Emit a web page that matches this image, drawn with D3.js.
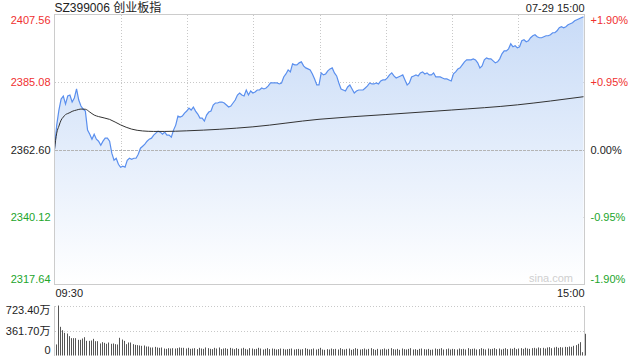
<!DOCTYPE html>
<html lang="zh">
<head>
<meta charset="UTF-8">
<title>创业板指 分时</title>
<style>
    html, body { margin: 0; padding: 0; background: #fff; }
    svg { display: block; font-family: "Liberation Sans", Arial, "Noto Sans CJK SC", sans-serif; }
    .grid { stroke: #c8c8c8; stroke-width: 1; stroke-dasharray: 1,2; fill: none; shape-rendering: crispEdges; }
    .zero { stroke: #b4b4b4; stroke-width: 1; stroke-dasharray: 3,1; fill: none; shape-rendering: crispEdges; }
    .frame { stroke: #cccccc; fill: none; shape-rendering: crispEdges; }
    .lbl { font-size: 11px; }
</style>
</head>
<body>
<svg id="chart" width="640" height="360"></svg>
<script src="https://cdn.jsdelivr.net/npm/d3@7"></script>
<script>
// 标题
const code = 'SZ399006', name = '创业板指', stamp = '07-29 15:00';
const timeLabels = ['09:30', '15:00'];
const preClose = 2362.60;

// 价格刻度 / 涨跌幅刻度
const priceTicks = [2407.56, 2385.08, 2362.60, 2340.12, 2317.64];
const pctTicks = ['+1.90%', '+0.95%', '0.00%', '-0.95%', '-1.90%'];
const volTicks = [723.40, 361.70, 0];

// 每分钟价格 (09:30 - 15:00, 241 点)
const price = [
    2362.60, 2370.72, 2375.74, 2379.41, 2380.42, 2377.74, 2380.42, 2380.75, 2378.41, 2379.75,
    2382.76, 2379.08, 2377.07, 2376.07, 2375.40, 2369.05, 2367.71, 2366.04, 2367.71, 2366.04,
    2365.37, 2364.04, 2365.37, 2366.38, 2366.38, 2365.37, 2361.36, 2359.02, 2359.69, 2357.68,
    2356.68, 2357.02, 2356.68, 2359.02, 2359.69, 2359.36, 2359.69, 2359.69, 2361.03, 2363.03,
    2363.70, 2364.37, 2365.37, 2366.04, 2366.38, 2367.38, 2368.05, 2368.72, 2368.38, 2367.71,
    2368.38, 2367.38, 2367.38, 2366.71, 2369.05, 2370.72, 2373.73, 2373.40, 2373.73, 2374.73,
    2375.40, 2376.41, 2375.74, 2376.74, 2375.40, 2374.40, 2373.06, 2373.06, 2372.06, 2374.07,
    2375.07, 2375.40, 2377.41, 2378.08, 2378.08, 2378.41, 2378.41, 2378.08, 2377.41, 2376.74,
    2377.07, 2378.08, 2379.08, 2380.75, 2381.42, 2380.75, 2380.42, 2382.42, 2380.75, 2382.09,
    2381.42, 2381.75, 2382.42, 2382.42, 2383.09, 2382.76, 2383.09, 2383.76, 2384.76, 2384.76,
    2384.76, 2384.76, 2384.43, 2384.76, 2386.77, 2387.77, 2389.11, 2388.44, 2391.11, 2390.78,
    2390.78, 2391.45, 2391.78, 2390.45, 2389.78, 2389.44, 2389.11, 2387.77, 2386.10, 2384.09,
    2384.09, 2388.11, 2387.44, 2387.77, 2388.77, 2389.44, 2389.78, 2388.11, 2387.10, 2384.76,
    2382.76, 2382.42, 2382.09, 2383.43, 2384.09, 2382.76, 2381.42, 2382.09, 2382.42, 2382.42,
    2382.42, 2383.09, 2383.76, 2384.76, 2384.43, 2384.43, 2384.76, 2384.43, 2385.43, 2385.77,
    2385.77, 2386.43, 2387.44, 2388.11, 2387.10, 2386.43, 2386.77, 2387.10, 2387.44, 2385.77,
    2384.09, 2384.76, 2386.77, 2387.10, 2387.44, 2387.10, 2388.11, 2388.44, 2387.77, 2388.11,
    2387.44, 2387.44, 2388.11, 2386.77, 2386.77, 2386.77, 2386.43, 2386.10, 2386.10, 2385.77,
    2385.43, 2387.77, 2388.44, 2389.44, 2389.78, 2390.78, 2391.78, 2392.45, 2392.45, 2392.45,
    2392.79, 2392.45, 2391.45, 2389.78, 2390.45, 2392.45, 2393.12, 2392.79, 2392.79, 2392.12,
    2391.45, 2391.78, 2392.79, 2394.46, 2395.46, 2395.46, 2396.13, 2397.80, 2396.80, 2397.13,
    2396.46, 2396.80, 2398.80, 2399.14, 2398.47, 2398.80, 2399.81, 2400.48, 2400.81, 2400.14,
    2399.81, 2399.81, 2400.14, 2400.48, 2400.48, 2400.81, 2401.48, 2401.48, 2402.15, 2403.15,
    2403.48, 2403.15, 2403.48, 2404.15, 2404.49, 2404.82, 2405.49, 2405.82, 2406.16, 2406.49,
    2406.83
];

// 均价线 (分钟序号, 均价)
const avgIdx = [0, 1, 2, 3, 4, 5, 6, 7, 8, 10, 12, 14, 16, 18, 20, 25, 30, 35, 40, 45, 50, 60, 90, 120, 150, 180, 210, 225, 240];
const avgPrice = [2362.60, 2368.05, 2370.39, 2372.39, 2373.40, 2374.23, 2374.57, 2374.90, 2375.30, 2375.74,
    2376.07, 2376.00, 2375.07, 2374.07, 2373.56, 2372.63, 2370.79, 2369.39, 2368.78, 2368.62,
    2368.62, 2368.82, 2370.15, 2372.66, 2374.23, 2375.74, 2377.47, 2378.75, 2380.18];

// 成交量 (万)
const volume = [
    160, 723, 415, 366, 328, 318, 280, 251, 251, 251,
    227, 227, 246, 265, 212, 212, 217, 241, 207, 207,
    174, 193, 183, 169, 188, 169, 174, 164, 159, 256,
    231, 212, 164, 188, 188, 164, 154, 150, 145, 140,
    145, 130, 130, 116, 116, 125, 116, 111, 116, 101,
    96, 106, 101, 106, 101, 106, 116, 111, 111, 101,
    111, 96, 101, 106, 92, 111, 101, 96, 116, 106,
    96, 92, 111, 101, 116, 92, 101, 106, 96, 111,
    101, 92, 106, 96, 101, 111, 96, 87, 106, 101,
    92, 96, 111, 101, 87, 96, 106, 92, 101, 96,
    87, 92, 101, 96, 87, 92, 96, 101, 87, 92,
    96, 87, 92, 106, 96, 87, 92, 101, 87, 96,
    111, 87, 82, 92, 87, 101, 92, 96, 87, 106,
    92, 87, 96, 101, 82, 92, 106, 96, 87, 92,
    101, 87, 96, 106, 92, 82, 96, 87, 92, 101,
    87, 96, 106, 92, 87, 96, 82, 101, 92, 87,
    96, 106, 87, 92, 82, 96, 101, 92, 87, 96,
    82, 87, 101, 92, 96, 106, 87, 92, 101, 87,
    96, 92, 87, 101, 92, 96, 87, 106, 92, 96,
    101, 87, 92, 106, 96, 87, 101, 92, 96, 106,
    92, 101, 87, 96, 106, 92, 101, 96, 111, 92,
    101, 106, 96, 111, 101, 96, 106, 111, 101, 116,
    106, 111, 101, 116, 121, 106, 116, 125, 111, 121,
    116, 125, 121, 130, 125, 140, 150, 169, 193, 48,
    314
];

const red = '#f0302f', green = '#22a52b', black = '#222';

const svg = d3.select('#chart');
const pLeft = 54.5, pRight = 584.5, pTop = 14.5, pBottom = 284.5;
const vTop = 305.5, vBottom = 355.5;

const x = d3.scaleLinear().domain([0, 240]).range([pLeft, pRight - 1]);
const y = d3.scaleLinear().domain([priceTicks[4], priceTicks[0]]).range([pBottom, pTop]);
const yv = d3.scaleLinear().domain([0, volTicks[0]]).range([vBottom, vTop]);

// 渐变填充
const grad = svg.append('defs').append('linearGradient')
    .attr('id', 'fillGrad').attr('gradientUnits', 'userSpaceOnUse')
    .attr('x1', 0).attr('x2', 0).attr('y1', pTop).attr('y2', pBottom);
grad.append('stop').attr('offset', 0).attr('stop-color', '#c8dbf7');
grad.append('stop').attr('offset', 1).attr('stop-color', '#ffffff');

// 网格
const gx = d3.range(1, 8).map(k => pLeft + (pRight - pLeft) * k / 8);
svg.append('g').selectAll('line').data(gx).enter().append('line')
    .attr('class', 'grid')
    .attr('x1', d => Math.round(d) + 0.5).attr('x2', d => Math.round(d) + 0.5)
    .attr('y1', pTop).attr('y2', pBottom);
svg.append('g').selectAll('line').data([priceTicks[1], priceTicks[3]]).enter().append('line')
    .attr('class', 'grid')
    .attr('x1', pLeft).attr('x2', pRight)
    .attr('y1', d => Math.round(y(d)) + 0.5).attr('y2', d => Math.round(y(d)) + 0.5);

// 面积 + 价格线
const idx = d3.range(price.length);
const area = d3.area().x(i => x(i)).y0(pBottom).y1(i => y(price[i]));
svg.append('path').datum(idx).attr('d', area).attr('fill', 'url(#fillGrad)');

svg.append('line').attr('class', 'zero')
    .attr('x1', pLeft).attr('x2', pRight)
    .attr('y1', Math.round(y(preClose)) + 0.5).attr('y2', Math.round(y(preClose)) + 0.5);

const line = d3.line().x(i => x(i)).y(i => y(price[i]));
svg.append('path').datum(idx).attr('d', line)
    .attr('fill', 'none').attr('stroke', '#5a8fee').attr('stroke-width', 1.2);

// 均价线
const avgLine = d3.line().x((d, k) => x(avgIdx[k])).y(d => y(d)).curve(d3.curveMonotoneX);
svg.append('path').datum(avgPrice).attr('d', avgLine)
    .attr('fill', 'none').attr('stroke', '#333').attr('stroke-width', 1);

// 边框
svg.append('rect').attr('class', 'frame')
    .attr('x', pLeft).attr('y', pTop).attr('width', pRight - pLeft).attr('height', pBottom - pTop);

// 左轴: 价格
const colorOf = i => i < 2 ? red : (i === 2 ? black : green);
const yAxisL = d3.axisLeft(y).tickValues(priceTicks).tickSize(0).tickPadding(4).tickFormat(d3.format('.2f'));
const gl = svg.append('g').attr('transform', `translate(${pLeft},0)`).call(yAxisL);
gl.attr('font-family', null).attr('font-size', null);
gl.select('.domain').remove();
gl.selectAll('text')
    .attr('class', 'lbl')
    .attr('fill', (d, i) => colorOf(i))
    .attr('dy', (d, i) => i === 0 ? '0.85em' : (i === 4 ? '-0.2em' : '0.32em'));

// 右轴: 涨跌幅
const yAxisR = d3.axisRight(y).tickValues(priceTicks).tickSize(0).tickPadding(6)
    .tickFormat((d, i) => pctTicks[i]);
const gr = svg.append('g').attr('transform', `translate(${pRight},0)`).call(yAxisR);
gr.attr('font-family', null).attr('font-size', null);
gr.select('.domain').remove();
gr.selectAll('text')
    .attr('class', 'lbl')
    .attr('fill', (d, i) => colorOf(i))
    .attr('dy', (d, i) => i === 0 ? '0.85em' : (i === 4 ? '-0.2em' : '0.32em'));

// 标题和时间
svg.append('text').attr('x', pLeft).attr('y', 11.5).attr('font-size', 12).attr('fill', '#222')
    .text(code + ' ' + name);
svg.append('text').attr('x', pRight).attr('y', 11.5).attr('font-size', 11).attr('fill', '#222')
    .attr('text-anchor', 'end').text(stamp);
svg.append('text').attr('x', pLeft + 1).attr('y', 297).attr('font-size', 11).attr('fill', '#222')
    .text(timeLabels[0]);
svg.append('text').attr('x', pRight).attr('y', 297).attr('font-size', 11).attr('fill', '#222')
    .attr('text-anchor', 'end').text(timeLabels[1]);

// 水印
svg.append('text').attr('x', 573).attr('y', 282).attr('font-size', 11).attr('fill', '#cfcfcf')
    .attr('text-anchor', 'end').text('sina.com');

// 成交量
svg.append('g').selectAll('line').data([volTicks[0], volTicks[1]]).enter().append('line')
    .attr('class', 'grid')
    .attr('x1', pLeft).attr('x2', pRight)
    .attr('y1', d => Math.round(yv(d)) + 0.5).attr('y2', d => Math.round(yv(d)) + 0.5);
svg.append('line').attr('class', 'frame').attr('x1', pLeft).attr('x2', pLeft).attr('y1', vTop).attr('y2', vBottom);
svg.append('line').attr('class', 'frame').attr('x1', pRight).attr('x2', pRight).attr('y1', vTop).attr('y2', vBottom);

svg.append('g').selectAll('rect').data(volume).enter().append('rect')
    .attr('x', (d, i) => Math.round(x(i)) + 1)
    .attr('width', 1)
    .attr('y', d => yv(d))
    .attr('height', d => vBottom - yv(d))
    .attr('fill', '#555');

const yAxisV = d3.axisLeft(yv).tickValues(volTicks).tickSize(0).tickPadding(4)
    .tickFormat(d => d === 0 ? '0' : d3.format('.2f')(d) + '万');
const gv = svg.append('g').attr('transform', `translate(${pLeft},0)`).call(yAxisV);
gv.attr('font-family', null).attr('font-size', null);
gv.select('.domain').remove();
gv.selectAll('text')
    .attr('class', 'lbl')
    .attr('fill', '#222')
    .attr('dy', (d, i) => i === 0 ? '0.7em' : (i === 2 ? '-0.2em' : '0.32em'));
</script>
</body>
</html>
